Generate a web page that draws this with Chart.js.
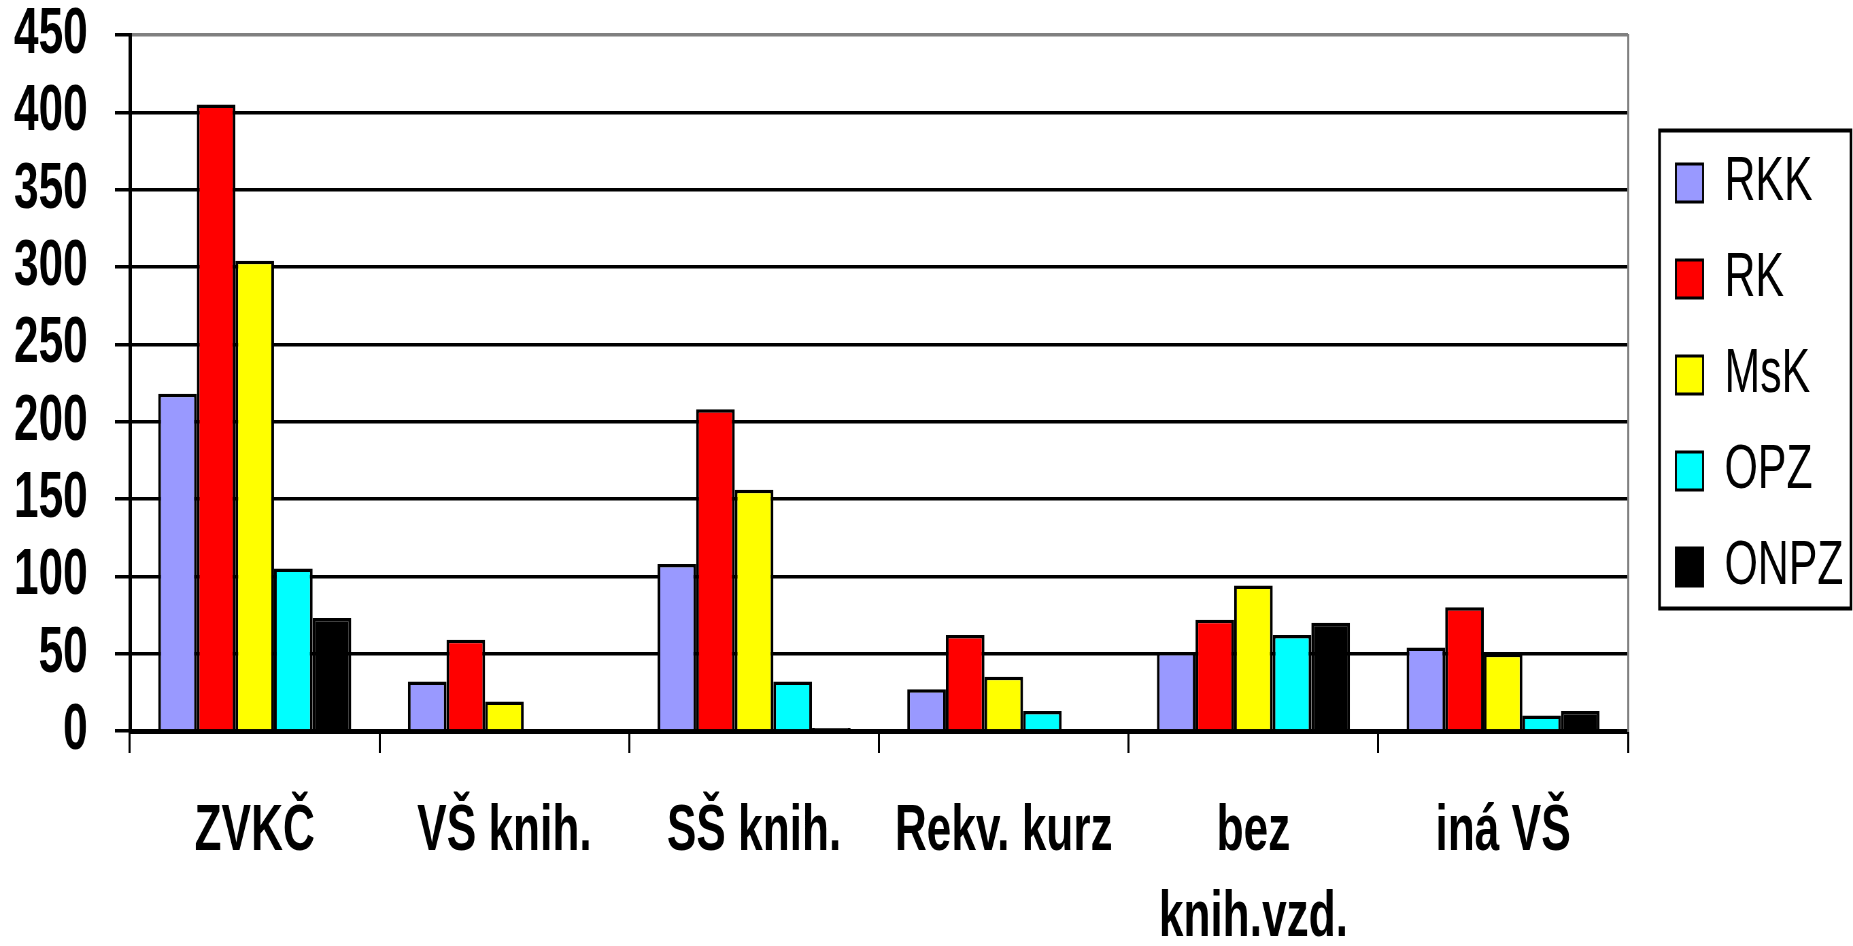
<!DOCTYPE html>
<html lang="sk">
<head>
<meta charset="utf-8">
<title>Vzdelanie knihovníkov</title>
<script src="https://cdn.jsdelivr.net/npm/chart.js@4.4.1/dist/chart.umd.min.js"></script>
<style>
  html, body { margin: 0; padding: 0; background: #fff; overflow: hidden; }
  /* graf sa kreslí širší a potom sa zúži na šírku okna */
  #obal { width: 2725px; height: 946px; transform: scaleX(0.68); transform-origin: 0 0; }
</style>
</head>
<body>
<div id="obal"><canvas id="graf" width="2725" height="946"></canvas></div>
<script>
// Kategórie na osi X
const kategorie = ['ZVKČ', 'VŠ knih.', 'SŠ knih.', 'Rekv. kurz', ['bez', 'knih.vzd.'], 'iná VŠ'];

// Hodnoty pre jednotlivé skupiny
const rkk  = [218, 32, 108, 27, 51, 54];
const rk   = [405, 59, 208, 62, 72, 80];
const msk  = [304, 19, 156, 35, 94, 50];
const opz  = [105, 0, 32, 13, 62, 10];
const onpz = [73, 0, 2, 0, 70, 13];

// Popisky osi Y
const osY = [0, 50, 100, 150, 200, 250, 300, 350, 400, 450];

const pismo = "'Liberation Sans', Arial, sans-serif";

const sada = (nazov, data, farba) => ({
    label: nazov,
    data: data,
    backgroundColor: farba,
    borderColor: '#000',
    borderWidth: { top: 3.5, left: 4, right: 4, bottom: 0 },
    categoryPercentage: 0.773,
    barPercentage: 1
});

// Rámik okolo legendy
const ramikLegendy = {
    id: 'ramikLegendy',
    afterDraw(chart) {
        const lg = chart.legend;
        const boxy = lg.legendHitBoxes;
        if (!boxy || !boxy.length) return;
        const prvy = boxy[0];
        const posledny = boxy[boxy.length - 1];
        const hore = prvy.top - 21;
        const dole = posledny.top + posledny.height + 10;
        const ctx = chart.ctx;
        ctx.save();
        ctx.strokeStyle = '#000';
        ctx.lineWidth = 4;
        ctx.strokeRect(lg.left + 9, hore, chart.width - 3 - lg.left - 9, dole - hore);
        ctx.restore();
    }
};

const graf = new Chart(document.querySelector('#graf'), {
    type: 'bar',
    data: {
        labels: kategorie,
        datasets: [
            sada('RKK', rkk, '#9999FF'),
            sada('RK', rk, '#FF0000'),
            sada('MsK', msk, '#FFFF00'),
            sada('OPZ', opz, '#00FFFF'),
            sada('ONPZ', onpz, '#000000')
        ]
    },
    options: {
        responsive: false,
        animation: false,
        devicePixelRatio: 1,
        layout: { padding: { top: 35, right: 14, bottom: 0, left: 0 } },
        plugins: {
            tooltip: { enabled: false },
            legend: {
                position: 'right',
                align: 'start',
                maxWidth: 279.5,
                title: { display: true, text: '', padding: { top: 73.5, bottom: 0 }, font: { size: 10, lineHeight: 1 } },
                labels: {
                    boxWidth: 40,
                    boxHeight: 38,
                    padding: 33,
                    color: '#000',
                    font: { family: pismo, size: 63 }
                }
            }
        },
        scales: {
            x: {
                offset: true,
                afterFit: (s) => { s.height = 215; },
                grid: {
                    offset: true,
                    drawOnChartArea: false,
                    drawTicks: true,
                    tickLength: 22,
                    color: '#000',
                    lineWidth: 3
                },
                border: { display: true, color: '#000', width: 5 },
                ticks: {
                    color: '#000',
                    autoSkip: false,
                    maxRotation: 0,
                    padding: 36,
                    font: { family: pismo, size: 65, weight: 'bold', lineHeight: 1.32 }
                }
            },
            y: {
                min: 0,
                max: 450,
                afterFit: (s) => { s.width = 191; s.paddingTop = 0; s.paddingBottom = 0; },
                afterBuildTicks: (s) => { s.ticks = osY.map(v => ({ value: v })); },
                grid: {
                    color: (c) => (c.tick && c.tick.value === 450 ? '#808080' : '#000'),
                    tickColor: '#000',
                    lineWidth: 3.5,
                    tickLength: 22
                },
                border: { display: true, color: '#000', width: 5 },
                ticks: {
                    color: '#000',
                    autoSkip: false,
                    padding: 40,
                    font: { family: pismo, size: 65, weight: 'bold', lineHeight: 1 }
                }
            },
            y2: {
                position: 'right',
                min: 0,
                max: 450,
                afterFit: (s) => { s.width = 37.5; s.paddingTop = 0; s.paddingBottom = 0; },
                grid: { display: false },
                ticks: { display: false },
                border: { display: true, color: '#808080', width: 3 }
            }
        }
    },
    plugins: [ramikLegendy]
});
</script>
</body>
</html>
